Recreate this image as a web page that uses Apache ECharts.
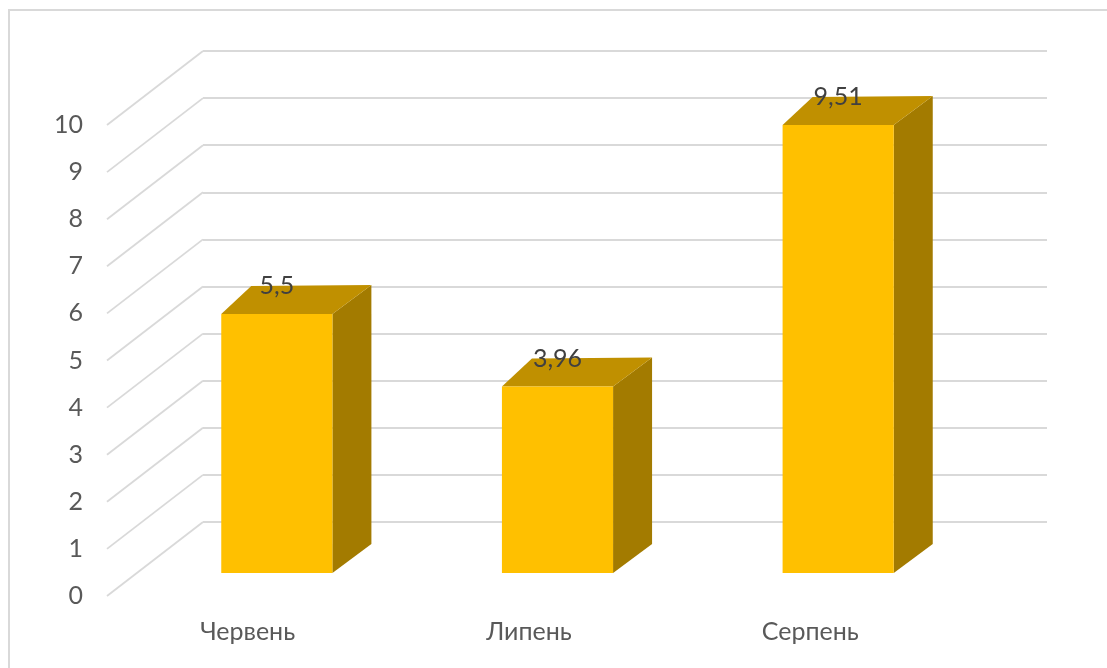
<!DOCTYPE html>
<html>
<head>
<meta charset="utf-8">
<script src="https://cdn.jsdelivr.net/npm/echarts@6/dist/echarts.min.js"></script>
<style>
html,body{margin:0;padding:0;background:#fff;}
#chart{width:1107px;height:668px;}
</style>
</head>
<body>
<div id="chart"></div>
<script>
// ---- data ----
const categories = ['Червень', 'Липень', 'Серпень'];
const values = [5.5, 3.96, 9.51];
const yTicks = [0, 1, 2, 3, 4, 5, 6, 7, 8, 9, 10];

// ---- layout / style ----
const BACK = { left: 203, top: 51, width: 844, height: 471 };   // back wall
const FRONT = { left: 107, top: 125, width: 844, height: 471 }; // front plane (axis labels)
const BARS = { left: 136.5, top: 102, width: 842, height: 471 }; // bar front faces
const GRID_COLOR = '#D9D9D9';
const FONT = 'Lato, "Open Sans", sans-serif';

const chart = echarts.init(document.getElementById('chart'), null, { renderer: 'canvas' });

function fmt(v) { return String(v).replace('.', ','); }

const option = {
  animation: false,
  backgroundColor: '#ffffff',
  graphic: [{
    type: 'rect',
    shape: { x: 9, y: 10, width: 1300, height: 900 },
    style: { fill: 'none', stroke: GRID_COLOR, lineWidth: 2 },
    silent: true, z: 0
  }],
  grid: [
    Object.assign({ containLabel: false }, BACK),
    Object.assign({ containLabel: false }, FRONT),
    Object.assign({ containLabel: false }, BARS)
  ],
  xAxis: [
    { gridIndex: 0, type: 'category', data: categories, show: false },
    {
      gridIndex: 1, type: 'category', data: categories,
      axisLine: { show: false }, axisTick: { show: false }, splitLine: { show: false },
      axisLabel: { color: '#595959', fontSize: 25, fontFamily: FONT, margin: 23 }
    },
    { gridIndex: 2, type: 'category', data: categories, show: false }
  ],
  yAxis: [
    {
      gridIndex: 0, type: 'value', min: 0, max: 10, interval: 1,
      axisLabel: { show: false }, axisLine: { show: false }, axisTick: { show: false },
      splitLine: { show: true, lineStyle: { color: GRID_COLOR, width: 1.8 } }
    },
    {
      gridIndex: 1, type: 'value', min: 0, max: 10, interval: 1,
      axisLine: { show: false }, axisTick: { show: false }, splitLine: { show: false },
      axisLabel: { color: '#595959', fontSize: 25, fontFamily: FONT, margin: 24,
        formatter: function (v) { return yTicks.indexOf(v) >= 0 ? String(v) : ''; } }
    },
    { gridIndex: 2, type: 'value', min: 0, max: 10, interval: 1, show: false, splitLine: { show: false } }
  ],
  series: [
    {
      // diagonal side-wall lines from back wall to front plane
      type: 'custom', xAxisIndex: 0, yAxisIndex: 0, z: 1, silent: true,
      data: yTicks.map(function (t) { return [0, t]; }),
      renderItem: function (params, api) {
        const y = api.coord([0, api.value(1)])[1];
        const x0 = params.coordSys.x;
        const dx = FRONT.left - BACK.left, dy = FRONT.top - BACK.top;
        return {
          type: 'line',
          shape: { x1: x0, y1: y, x2: x0 + dx, y2: y + dy },
          style: { stroke: GRID_COLOR, lineWidth: 1.8 }
        };
      }
    },
    {
      // 3D bars
      type: 'custom', xAxisIndex: 2, yAxisIndex: 2, z: 5, silent: true,
      data: values.map(function (v, i) { return [i, v]; }),
      renderItem: function (params, api) {
        const idx = api.value(0), v = api.value(1);
        const top = api.coord([idx, v]);
        const bot = api.coord([idx, 0]);
        const w = api.size([1, 0])[0] * 0.396;
        const l = top[0] - w / 2, r = top[0] + w / 2, t = top[1], b = bot[1];
        return {
          type: 'group',
          children: [
            { type: 'polygon', shape: { points: [[r, t], [r + 39, t - 29], [r + 39, b - 29], [r, b]] },
              style: { fill: '#A37B00' } },
            { type: 'polygon', shape: { points: [[l, t], [r, t], [r + 39, t - 29], [l + 30, t - 28]] },
              style: { fill: '#C09000' } },
            { type: 'rect', shape: { x: l, y: t, width: w, height: b - t },
              style: { fill: '#FFC000' } },
            { type: 'text', z2: 10,
              style: { text: fmt(values[idx]), x: top[0], y: t - 28, align: 'center', verticalAlign: 'middle',
                fill: '#404040', fontSize: 25, fontFamily: FONT } }
          ]
        };
      }
    }
  ]
};
chart.setOption(option);
</script>
</body>
</html>
